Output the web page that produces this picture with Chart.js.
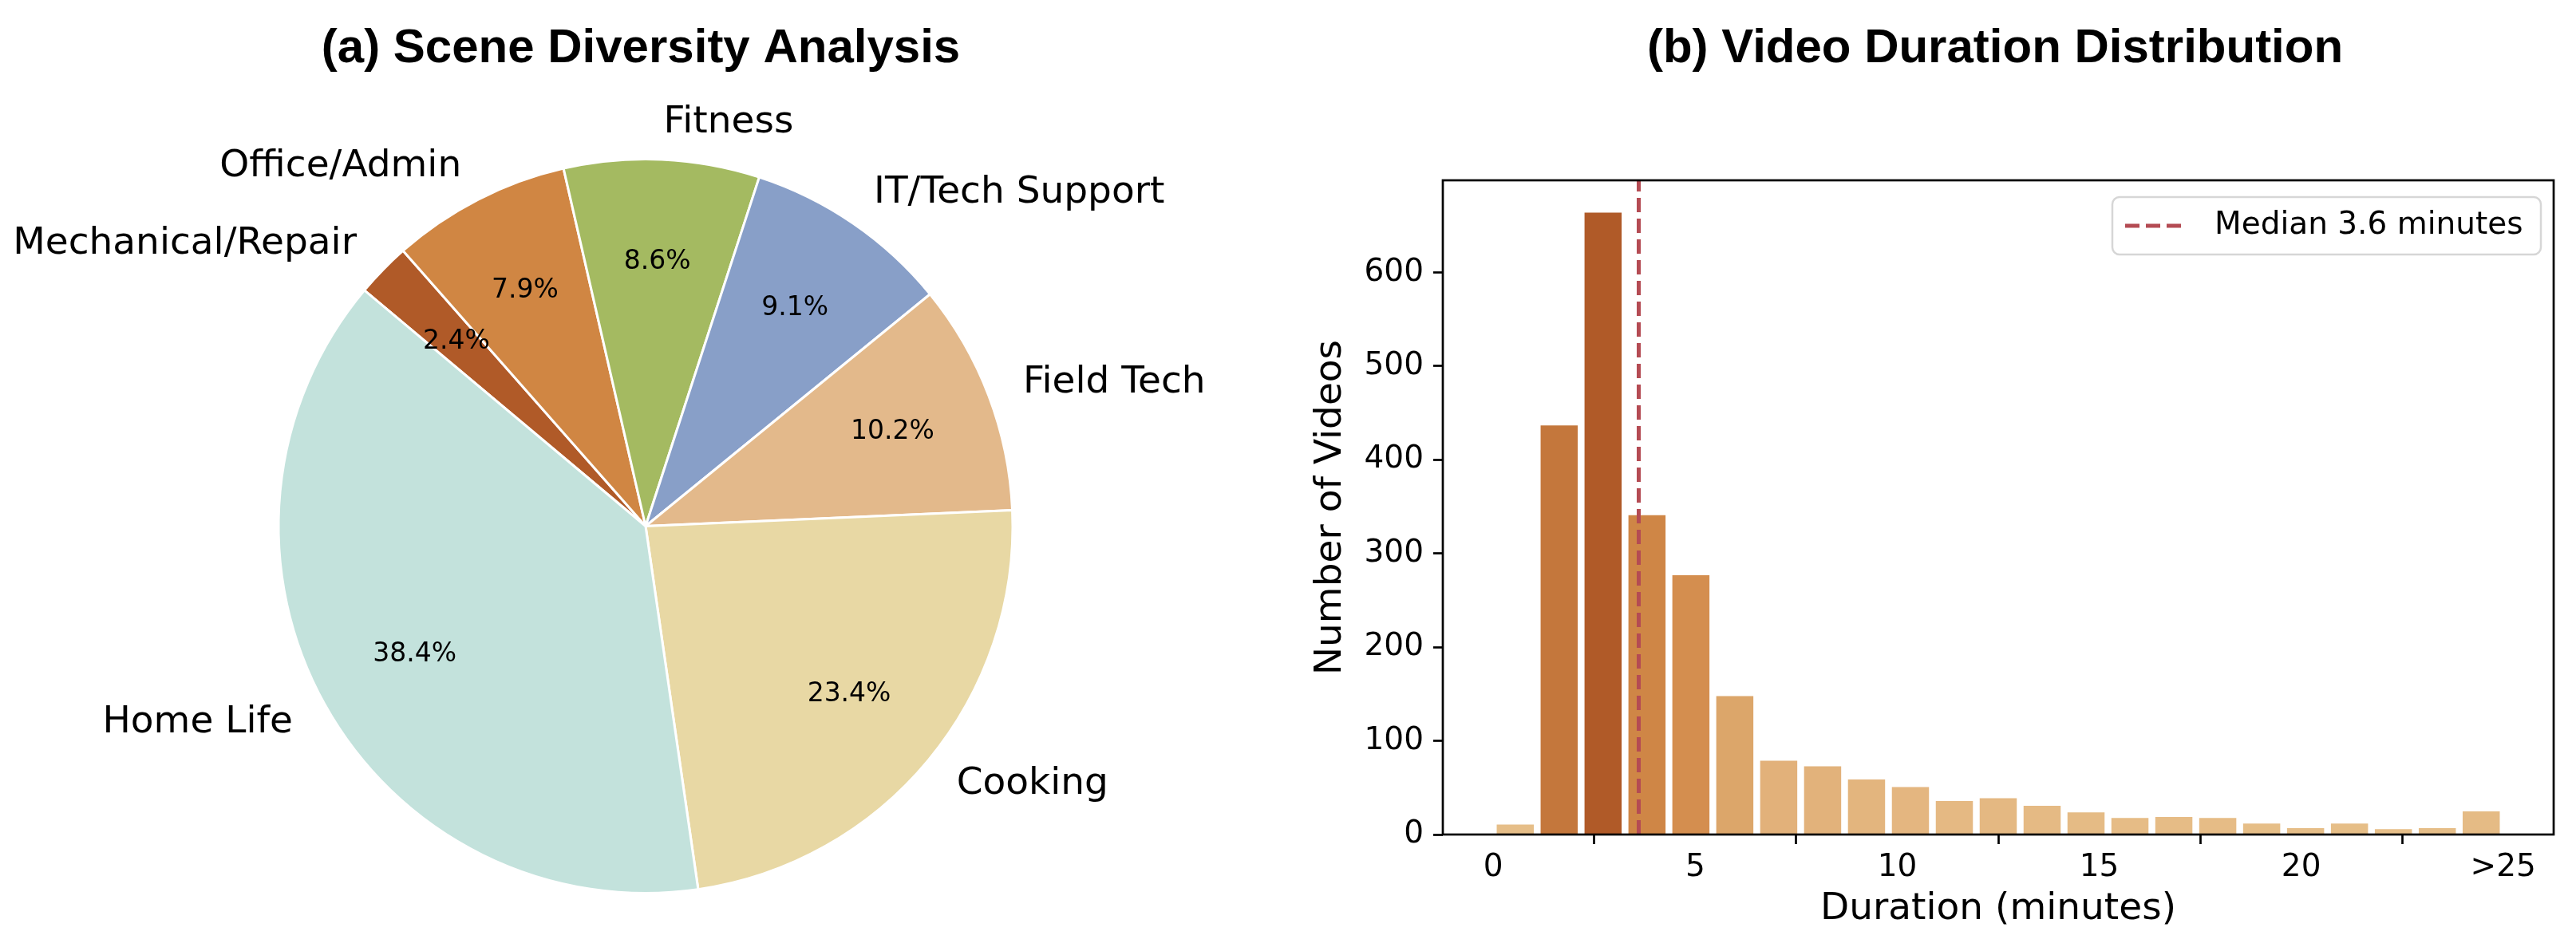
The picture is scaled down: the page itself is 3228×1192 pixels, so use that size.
<!DOCTYPE html>
<html>
<head>
<meta charset="utf-8">
<script src="https://cdn.jsdelivr.net/npm/chart.js@4.4.1/dist/chart.umd.min.js"></script>
<style>
  html, body { margin: 0; padding: 0; background: #fff; }
  #wrap { position: relative; width: 3228px; height: 1192px; }
  canvas { position: absolute; top: 0; }
  #pieChart { left: 0; }
  #histChart { left: 1620px; }
</style>
</head>
<body>
<div id="wrap">
  <canvas id="pieChart" width="1620" height="1192"></canvas>
  <canvas id="histChart" width="1608" height="1192"></canvas>
</div>
<script>
// (a) scene shares, in percent
const sceneLabels = ["Home Life", "Cooking", "Field Tech", "IT/Tech Support", "Fitness", "Office/Admin", "Mechanical/Repair"];
const sceneShares = [38.4, 23.4, 10.2, 9.1, 8.6, 7.9, 2.4];
const sceneColors = ["#c3e2dc", "#e8d8a4", "#e3b98b", "#889fc8", "#a4ba61", "#d08643", "#b05a28"];

// (b) duration histogram
const binEdges = [0, 1.087, 2.174, 3.261, 4.348, 5.435, 6.522, 7.609, 8.696, 9.783, 10.870, 11.957,
  13.043, 14.130, 15.217, 16.304, 17.391, 18.478, 19.565, 20.652, 21.739, 22.826, 23.913, 25];
const videoCounts = [12, 438, 665, 342, 278, 149, 80, 74, 60, 52, 37, 40, 32, 25, 19, 20, 19, 13, 8, 13, 7, 8, 26];
const xTickValues = [0, 5, 10, 15, 20, 25];
const xTickLabels = ["0", "5", "10", "15", "20", ">25"];
const yTickValues = [0, 100, 200, 300, 400, 500, 600];
const medianMinutes = 3.6;

Chart.defaults.font.family = "'DejaVu Sans', sans-serif";
Chart.defaults.color = "#000";

// matplotlib draws counter-clockwise from 140deg, Chart.js goes clockwise
const pieOrder = sceneLabels.map((_, i) => i).reverse();

const pieLabels = {
  id: "pieLabels",
  afterDatasetsDraw(chart) {
    const ctx = chart.ctx;
    const meta = chart.getDatasetMeta(0);
    const labels = chart.data.labels;
    const values = chart.data.datasets[0].data;
    ctx.save();
    ctx.fillStyle = "#000";
    ctx.textBaseline = "middle";
    meta.data.forEach((arc, i) => {
      const p = arc.getProps(["x", "y", "startAngle", "endAngle", "outerRadius"], true);
      const mid = (p.startAngle + p.endAngle) / 2;
      const cx = Math.cos(mid), cy = Math.sin(mid);
      ctx.font = "47px 'DejaVu Sans'";
      ctx.textAlign = cx > 0 ? "left" : "right";
      ctx.fillText(labels[i], p.x + cx * p.outerRadius * 1.1, p.y + cy * p.outerRadius * 1.1);
      ctx.font = "33px 'DejaVu Sans'";
      ctx.textAlign = "center";
      ctx.fillText(values[i].toFixed(1) + "%", p.x + cx * p.outerRadius * 0.72, p.y + cy * p.outerRadius * 0.72);
    });
    ctx.font = "bold 60px 'Liberation Sans'";
    ctx.textAlign = "center";
    ctx.textBaseline = "alphabetic";
    ctx.fillText("(a) Scene Diversity Analysis", 803, 78);
    ctx.restore();
  }
};

new Chart(document.getElementById("pieChart"), {
  type: "pie",
  data: {
    labels: pieOrder.map(i => sceneLabels[i]),
    datasets: [{
      data: pieOrder.map(i => sceneShares[i]),
      backgroundColor: pieOrder.map(i => sceneColors[i]),
      borderColor: "#fff",
      borderWidth: 3
    }]
  },
  options: {
    responsive: false,
    animation: false,
    rotation: -50,
    layout: { padding: { top: 198, bottom: 71, left: 0, right: 2 } },
    plugins: { legend: { display: false }, tooltip: { enabled: false } }
  },
  plugins: [pieLabels]
});

// colour by bar height, light tan to burnt orange
const colorStops = [[0, "#e7c08a"], [0.12, "#e2b17a"], [0.22, "#dca66b"], [0.42, "#d48e4f"],
  [0.52, "#cf8545"], [0.66, "#c4773c"], [1, "#b05a28"]];
function hexRgb(h) { return [1, 3, 5].map(k => parseInt(h.slice(k, k + 2), 16)); }
function barColor(v, vmax) {
  const t = v / vmax;
  for (let k = 1; k < colorStops.length; k++) {
    if (t <= colorStops[k][0]) {
      const [t0, c0] = colorStops[k - 1], [t1, c1] = colorStops[k];
      const f = (t - t0) / (t1 - t0);
      const a = hexRgb(c0), b = hexRgb(c1);
      return "rgb(" + a.map((x, j) => Math.round(x + (b[j] - x) * f)).join(",") + ")";
    }
  }
  return colorStops[colorStops.length - 1][1];
}

const maxCount = Math.max(...videoCounts);
const yMax = maxCount * 1.05;
const binCenters = videoCounts.map((_, i) => (binEdges[i] + binEdges[i + 1]) / 2);

const histDecor = {
  id: "histDecor",
  afterDraw(chart) {
    const ctx = chart.ctx;
    const a = chart.chartArea;
    ctx.save();
    ctx.strokeStyle = "#000";
    ctx.lineWidth = 2.7;
    ctx.strokeRect(a.left, a.top, a.right - a.left, a.bottom - a.top);

    // legend
    const med = chart.data.datasets[1];
    ctx.beginPath();
    ctx.roundRect(1027, 247, 537, 72, 9);
    ctx.fillStyle = "rgba(255,255,255,0.8)";
    ctx.fill();
    ctx.strokeStyle = "#d6d6d6";
    ctx.lineWidth = 2.5;
    ctx.stroke();
    ctx.beginPath();
    ctx.setLineDash(med.borderDash);
    ctx.strokeStyle = med.borderColor;
    ctx.lineWidth = med.borderWidth;
    ctx.moveTo(1043, 283);
    ctx.lineTo(1117, 283);
    ctx.stroke();
    ctx.setLineDash([]);
    ctx.fillStyle = "#000";
    ctx.font = "39px 'DejaVu Sans'";
    ctx.textBaseline = "middle";
    ctx.textAlign = "left";
    ctx.fillText(med.label, 1155, 283);

    ctx.font = "bold 60px 'Liberation Sans'";
    ctx.textAlign = "center";
    ctx.textBaseline = "alphabetic";
    ctx.fillText("(b) Video Duration Distribution", 880, 78);
    ctx.restore();
  }
};

new Chart(document.getElementById("histChart"), {
  data: {
    datasets: [{
      type: "bar",
      label: "Videos",
      data: videoCounts.map((c, i) => ({ x: binCenters[i], y: c })),
      backgroundColor: videoCounts.map(c => barColor(c, maxCount)),
      borderColor: "rgba(255,255,255,0.5)",
      borderWidth: 1.5,
      barPercentage: 0.9,
      categoryPercentage: 1,
      order: 2
    }, {
      type: "line",
      label: "Median " + medianMinutes + " minutes",
      data: [{ x: medianMinutes, y: 0 }, { x: medianMinutes, y: yMax }],
      borderColor: "#b44b53",
      borderWidth: 5,
      borderDash: [18, 8],
      pointRadius: 0,
      order: 1
    }]
  },
  options: {
    responsive: false,
    animation: false,
    layout: { padding: { top: 226, right: 28, left: 0, bottom: 0 } },
    plugins: { legend: { display: false }, tooltip: { enabled: false } },
    scales: {
      x: {
        type: "linear",
        min: -1.25,
        max: 26.25,
        offset: false,
        afterFit: s => { s.height = 146; },
        afterBuildTicks: s => { s.ticks = xTickValues.map(v => ({ value: v })); },
        ticks: {
          font: { size: 39 },
          padding: 6,
          callback: v => xTickLabels[xTickValues.indexOf(v)]
        },
        grid: { drawOnChartArea: false, drawTicks: true, tickLength: 12, tickWidth: 2.7, tickColor: "#000" },
        border: { display: false },
        title: { display: true, text: "Duration (minutes)", font: { size: 47 }, padding: { top: 0, bottom: 24 } }
      },
      y: {
        min: 0,
        max: yMax,
        afterFit: s => { s.width = 188; },
        afterBuildTicks: s => { s.ticks = yTickValues.map(v => ({ value: v })); },
        ticks: { font: { size: 39 }, padding: 12 },
        grid: { drawOnChartArea: false, drawTicks: true, tickLength: 12, tickWidth: 2.7, tickColor: "#000" },
        border: { display: false },
        title: { display: true, text: "Number of Videos", font: { size: 47 }, padding: { top: 20, bottom: 0 } }
      }
    }
  },
  plugins: [histDecor]
});
</script>
</body>
</html>
